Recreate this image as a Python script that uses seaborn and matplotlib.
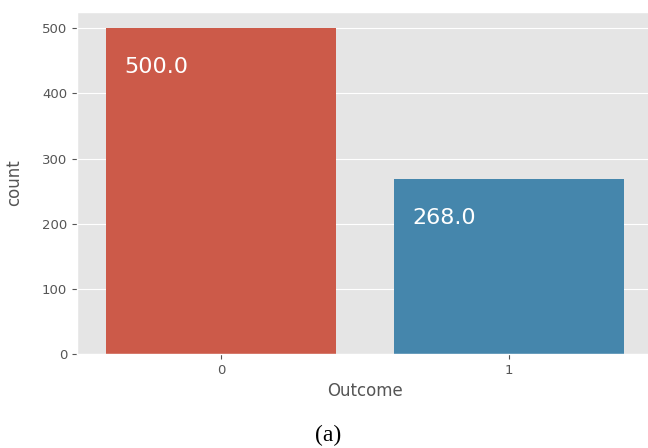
import matplotlib
matplotlib.use("Agg")
import matplotlib.pyplot as plt
import seaborn as sns
import pandas as pd

# Class counts of the diabetes outcome
outcome = [0, 1]
counts = [500, 268]
bar_colors = ["#E24A33", "#348ABD"]

plt.style.use("ggplot")

df = pd.DataFrame({"Outcome": outcome, "count": counts})

fig = plt.figure(figsize=(6.48, 4.48), dpi=100)
ax = fig.add_axes([77 / 648, 94 / 448, 576 / 648, 342 / 448])

sns.barplot(data=df, x="Outcome", y="count", hue="Outcome",
            palette=bar_colors, legend=False, ax=ax, width=0.8)

ax.set_ylim(0, max(counts) * 1.05)
ax.set_yticks(range(0, 501, 100))
ax.tick_params(axis="both", labelsize=9.5, colors="#555555")
ax.set_xlabel("Outcome", fontsize=12, color="#555555", labelpad=4)
ax.set_ylabel("count", fontsize=12, color="#555555")
ax.yaxis.set_label_coords(-0.093, 0.5)

# Value labels inside the top of each bar
for p in ax.patches:
    h = p.get_height()
    ax.annotate(f"{float(h)}", (p.get_x() + 0.065, h - 68),
                color="white", fontsize=16)

fig.text(0.506, 0.029, "(a)", ha="center", va="center",
         fontsize=17, family="Liberation Serif", color="black")

fig.savefig("out.png", dpi=100)
